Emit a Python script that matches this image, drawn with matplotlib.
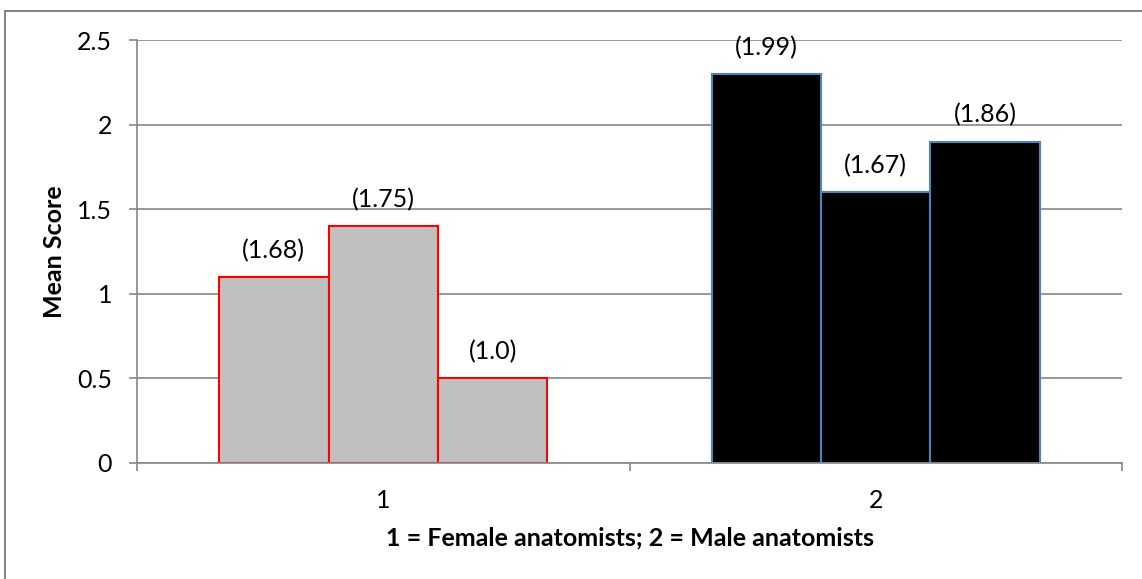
import matplotlib
matplotlib.use("Agg")
import matplotlib.pyplot as plt
from matplotlib.patches import Rectangle

plt.rcParams['font.family'] = ['Lato', 'DejaVu Sans']

# data
groups = [1, 2]
female_heights = [1.1, 1.4, 0.5]
female_labels = ["(1.68)", "(1.75)", "(1.0)"]
male_heights = [2.3, 1.6, 1.9]
male_labels = ["(1.99)", "(1.67)", "(1.86)"]
yticks = [0, 0.5, 1, 1.5, 2, 2.5]

grid_col = '#868686'
fs = 18

fig = plt.figure(figsize=(11.42, 5.79), dpi=100)
ax = fig.add_axes([137 / 1142, 116 / 579, 985 / 1142, 423 / 579])

w = 1 / 4.5
offsets = [-w, 0, w]

for heights, labels, g, face, edge in [
        (female_heights, female_labels, groups[0], '#c0c0c0', '#ff0000'),
        (male_heights, male_labels, groups[1], '#000000', '#4f81bd')]:
    xs = [g + o for o in offsets]
    ax.bar(xs, heights, width=w, color=face, edgecolor=edge, linewidth=1.5, zorder=3)
    for x, h, lab in zip(xs, heights, labels):
        ax.annotate(lab, (x, h), xytext=(0, 19), textcoords='offset points',
                    ha='center', va='center', fontsize=fs, zorder=4)

ax.set_xlim(0.5, 2.5)
ax.set_ylim(0, 2.5)
ax.set_yticks(yticks)
ax.set_yticklabels(["0", "0.5", "1", "1.5", "2", "2.5"])
ax.set_xticks([0.5, 1.5, 2.5])
ax.set_xticklabels([])
ax.set_xticks(groups, minor=True)
ax.set_xticklabels(["1", "2"], minor=True)
ax.tick_params(axis='x', which='minor', length=0, pad=19, labelsize=fs)
ax.tick_params(axis='x', which='major', length=6, color=grid_col, width=1.2)
ax.tick_params(axis='y', length=6, color=grid_col, width=1.2, pad=12, labelsize=fs)

ax.grid(axis='y', color=grid_col, linewidth=1.2, zorder=0)
for s in ['top', 'right']:
    ax.spines[s].set_visible(False)
for s in ['left', 'bottom']:
    ax.spines[s].set_color(grid_col)
    ax.spines[s].set_linewidth(1.2)
    ax.spines[s].set_zorder(5)

fig.text(55 / 1142, 1 - 252 / 579, "Mean Score", rotation=90, ha='center', va='center',
         fontsize=fs, fontweight='bold')
fig.text(630 / 1142, 1 - 538 / 579, "1 = Female anatomists; 2 = Male anatomists",
         ha='center', va='center', fontsize=fs, fontweight='bold')

# chart frame
fig.patches.append(Rectangle((5 / 1142, -0.1), 1.2, 1.1 - 11 / 579, transform=fig.transFigure,
                             fill=False, edgecolor=grid_col, linewidth=1.5))

fig.savefig("out.png", dpi=100)
